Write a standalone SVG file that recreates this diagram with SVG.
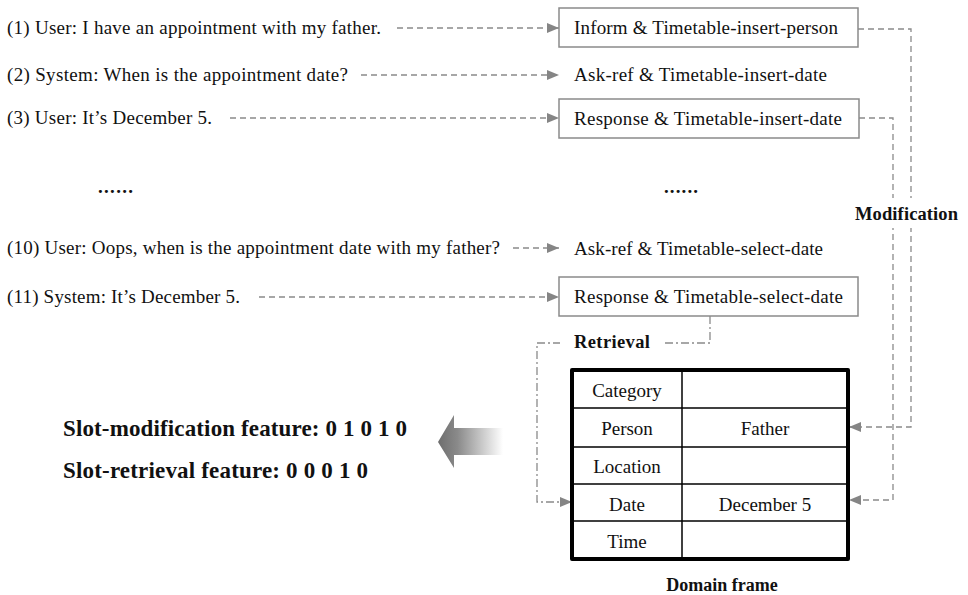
<svg xmlns="http://www.w3.org/2000/svg" width="968" height="595" viewBox="0 0 968 595">
<defs>
<marker id="ah" markerWidth="12" markerHeight="10" refX="12" refY="5" orient="auto" markerUnits="userSpaceOnUse">
<path d="M0,0 L12,5 L0,10 Z" fill="#858585"/>
</marker>
<linearGradient id="fade" gradientUnits="userSpaceOnUse" x1="438" y1="0" x2="503" y2="0">
<stop offset="0" stop-color="#6e6e6e"/>
<stop offset="0.3" stop-color="#8a8a8a"/>
<stop offset="1" stop-color="#ffffff"/>
</linearGradient>
</defs>
<style>
.t{font-family:"Liberation Serif","Times New Roman",serif;font-size:19px;fill:#111}
.b{font-family:"Liberation Serif","Times New Roman",serif;font-weight:bold;fill:#111}
.c{text-anchor:middle}
.box{fill:#fff;stroke:#8a8a8a;stroke-width:1.5}
.dash{fill:none;stroke:#8a8a8a;stroke-width:1.3;stroke-dasharray:6 4}
.dd{fill:none;stroke:#8a8a8a;stroke-width:1.3;stroke-dasharray:8 3 2 3}
.thick{fill:none;stroke:#000;stroke-width:4;stroke-linecap:round;stroke-linejoin:round}
.thin{stroke:#000;stroke-width:1.5}
</style>
<rect width="968" height="595" fill="#fff"/>

<g id="utterances">
<text class="t" x="7" y="34" textLength="374" lengthAdjust="spacing">(1) User: I have an appointment with my father.</text>
<text class="t" x="7" y="81" textLength="341" lengthAdjust="spacing">(2) System: When is the appointment date?</text>
<text class="t" x="7" y="124" textLength="205" lengthAdjust="spacing">(3) User: It’s December 5.</text>
<text class="b" x="98" y="193" font-size="19" textLength="35" lengthAdjust="spacing">......</text>
<text class="t" x="7" y="254" textLength="493" lengthAdjust="spacing">(10) User: Oops, when is the appointment date with my father?</text>
<text class="t" x="7" y="303" textLength="233" lengthAdjust="spacing">(11) System: It’s December 5.</text>
</g>

<g id="connectors">
<path class="dash" d="M397,28 H559" marker-end="url(#ah)"/>
<path class="dash" d="M361,75 H559" marker-end="url(#ah)"/>
<path class="dash" d="M230,118 H559" marker-end="url(#ah)"/>
<path class="dash" d="M513,248 H559" marker-end="url(#ah)"/>
<path class="dash" d="M259,297 H559" marker-end="url(#ah)"/>
<path class="dash" d="M858,29 H911 V427 H849" marker-end="url(#ah)"/>
<path class="dash" d="M859,118 H893 V500 H849" marker-end="url(#ah)"/>
<path class="dd" d="M710,316 V343 H537 V502 H572" marker-end="url(#ah)"/>
</g>

<g id="act1"><rect class="box" x="559" y="8" width="299" height="39"/><text class="t" x="574" y="34" textLength="264" lengthAdjust="spacing">Inform &amp; Timetable-insert-person</text></g>
<g id="act2"><text class="t" x="574" y="81" textLength="253" lengthAdjust="spacing">Ask-ref &amp; Timetable-insert-date</text></g>
<g id="act3"><rect class="box" x="559" y="99" width="300" height="39"/><text class="t" x="574" y="125" textLength="268" lengthAdjust="spacing">Response &amp; Timetable-insert-date</text></g>
<g id="dots2"><text class="b" x="664" y="193" font-size="19" textLength="34" lengthAdjust="spacing">......</text></g>
<g id="act10"><text class="t" x="574" y="255" textLength="249" lengthAdjust="spacing">Ask-ref &amp; Timetable-select-date</text></g>
<g id="act11"><rect class="box" x="559" y="277" width="299" height="39"/><text class="t" x="574" y="303" textLength="269" lengthAdjust="spacing">Response &amp; Timetable-select-date</text></g>

<g id="label-modification">
<rect x="850" y="198" width="115" height="30" fill="#fff"/>
<text class="b" x="855" y="220" font-size="18.5" textLength="103" lengthAdjust="spacing">Modification</text>
</g>
<g id="label-retrieval">
<rect x="560" y="334" width="104" height="18" fill="#fff"/>
<text class="b" x="574" y="348" font-size="18.5" textLength="76" lengthAdjust="spacing">Retrieval</text>
</g>

<g id="domain-frame">
<line class="thin" x1="682" y1="370" x2="682" y2="559"/>
<line class="thin" x1="572" y1="408" x2="849" y2="408"/>
<line class="thin" x1="572" y1="447" x2="849" y2="447"/>
<line class="thin" x1="572" y1="484" x2="849" y2="484"/>
<line class="thin" x1="572" y1="521" x2="849" y2="521"/>
<rect class="thick" x="572" y="370" width="276" height="189"/>
<text class="t c" x="627" y="397">Category</text>
<text class="t c" x="627" y="435">Person</text>
<text class="t c" x="627" y="473">Location</text>
<text class="t c" x="627" y="511">Date</text>
<text class="t c" x="627" y="548">Time</text>
<text class="t c" x="765" y="435">Father</text>
<text class="t c" x="765" y="511">December 5</text>
<text class="b c" x="722" y="591" font-size="18">Domain frame</text>
</g>

<g id="big-arrow">
<polygon points="438,442 454,415 454,428 503,428 503,455 454,455 454,468" fill="url(#fade)"/>
</g>

<g id="features">
<text class="b" x="63" y="436" font-size="23" textLength="344" lengthAdjust="spacing">Slot-modification feature: 0 1 0 1 0</text>
<text class="b" x="63" y="478" font-size="23" textLength="305" lengthAdjust="spacing">Slot-retrieval feature: 0 0 0 1 0</text>
</g>
</svg>
